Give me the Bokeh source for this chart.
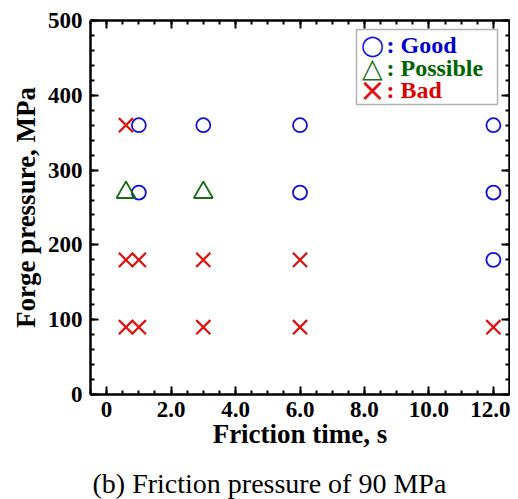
from bokeh.plotting import figure
from bokeh.layouts import column
from bokeh.models import Range1d, FixedTicker, LinearAxis, Label, BoxAnnotation
from bokeh.embed import file_html
from bokeh.resources import INLINE

# ---- data ----
good_x = [1, 3, 6, 12, 1, 6, 12, 12]
good_y = [360, 360, 360, 360, 270, 270, 270, 180]
possible_x = [0.6, 3]
possible_y = [270, 270]
bad_x = [0.6, 0.6, 1, 3, 6, 0.6, 1, 3, 6, 12]
bad_y = [360, 180, 180, 180, 180, 90, 90, 90, 90, 90]

x_ticks = [0, 2, 4, 6, 8, 10, 12]
x_tick_labels = ["0", "2.0", "4.0", "6.0", "8.0", "10.0", "12.0"]
x_minor = [i * 0.5 for i in range(-1, 26)]
y_ticks = [0, 100, 200, 300, 400, 500]
y_tick_labels = ["0", "100", "200", "300", "400", "500"]
y_minor = list(range(0, 501, 20))

legend_symbols = ["\u25CB", "\u25B3", "\u00D7"]
legend_labels = [": Good", ": Possible", ": Bad"]

x_title = "Friction time, s"
y_title = "Forge pressure, MPa"
caption = "(b) Friction pressure of 90 MPa"

BLUE = "#1010e0"
GREEN = "#1a6e1a"
RED = "#e01010"
TXT_BLUE = "#0000cc"
TXT_GREEN = "#006400"
TXT_RED = "#dd0000"
FONT = "Liberation Serif"

p = figure(width=510, height=462, output_backend="svg", toolbar_location=None,
           x_range=Range1d(-0.5, 12.5), y_range=Range1d(0, 500),
           min_border_left=90, min_border_right=1, min_border_top=20,
           min_border_bottom=68, x_axis_location=None, y_axis_location=None)
p.xgrid.visible = False
p.ygrid.visible = False
p.outline_line_color = None
p.background_fill_color = "white"
p.border_fill_color = "white"


def style(ax, ticks, minor, labels, show):
    ax.ticker = FixedTicker(ticks=ticks, minor_ticks=minor)
    ax.axis_line_width = 2.5
    ax.axis_line_color = "black"
    ax.major_tick_line_width = 2
    ax.minor_tick_line_width = 2
    ax.major_tick_line_color = "black"
    ax.minor_tick_line_color = "black"
    ax.major_tick_in = 8
    ax.major_tick_out = 0
    ax.minor_tick_in = 4
    ax.minor_tick_out = 0
    if show:
        ax.major_label_overrides = {t: l for t, l in zip(ticks, labels)}
        ax.major_label_text_font = FONT
        ax.major_label_text_font_style = "bold"
        ax.major_label_text_font_size = "23px"
        ax.major_label_text_color = "black"
        ax.axis_label_text_font = FONT
        ax.axis_label_text_font_style = "bold"
        ax.axis_label_text_font_size = "27px"
        ax.axis_label_text_color = "black"
    else:
        ax.major_label_overrides = {t: "" for t in ticks}
        ax.major_label_text_font_size = "2px"
        ax.major_label_standoff = 0
        ax.axis_label = None


xb = LinearAxis(axis_label=x_title)
style(xb, x_ticks, x_minor, x_tick_labels, True)
xb.major_label_standoff = 7
xb.axis_label_standoff = -1
p.add_layout(xb, "below")

yl = LinearAxis(axis_label=y_title)
style(yl, y_ticks, y_minor, y_tick_labels, True)
yl.major_label_standoff = 8
yl.axis_label_standoff = 4
p.add_layout(yl, "left")

xt = LinearAxis()
style(xt, x_ticks, x_minor, x_tick_labels, False)
p.add_layout(xt, "above")

yr = LinearAxis()
style(yr, y_ticks, y_minor, y_tick_labels, False)
p.add_layout(yr, "right")

p.scatter(good_x, good_y, marker="circle", size=14, fill_color=None,
          line_color=BLUE, line_width=1.8)
p.scatter(possible_x, possible_y, marker="triangle", size=19, fill_color=None,
          line_color=GREEN, line_width=1.8)
p.scatter(bad_x, bad_y, marker="x", size=20, line_color=RED, line_width=2.2)

# legend box
p.add_layout(BoxAnnotation(left=266, right=407, top=365, bottom=290,
                           left_units="screen", right_units="screen",
                           top_units="screen", bottom_units="screen",
                           fill_color=None, fill_alpha=0, line_color="black",
                           line_width=1.5))
rows_y = [350, 327, 305]
sym_sizes = ["27px", "27px", "32px"]
sym_colors = [BLUE, GREEN, RED]
txt_colors = [TXT_BLUE, TXT_GREEN, TXT_RED]
for sym, lab, yy, ss, sc, tc in zip(legend_symbols, legend_labels, rows_y,
                                    sym_sizes, sym_colors, txt_colors):
    p.add_layout(Label(x=282, y=yy, x_units="screen", y_units="screen", text=sym,
                       text_align="center", text_baseline="middle",
                       text_font="DejaVu Sans", text_font_size=ss, text_color=sc))
    p.add_layout(Label(x=296, y=yy, x_units="screen", y_units="screen", text=lab,
                       text_align="left", text_baseline="middle",
                       text_font=FONT, text_font_style="bold",
                       text_font_size="24px", text_color=tc))

# caption strip below the chart
pc = figure(width=510, height=37, output_backend="svg", toolbar_location=None,
            x_range=Range1d(0, 1), y_range=Range1d(0, 1),
            min_border_left=0, min_border_right=0, min_border_top=0,
            min_border_bottom=0, x_axis_location=None, y_axis_location=None)
pc.xgrid.visible = False
pc.ygrid.visible = False
pc.outline_line_color = None
pc.background_fill_color = "white"
pc.border_fill_color = "white"
pc.add_layout(Label(x=2, y=16, x_units="screen", y_units="screen", text=caption,
                    text_align="left", text_baseline="middle",
                    text_font=FONT, text_font_style="normal",
                    text_font_size="28px", text_color="black"))

layout = column(p, pc, spacing=0)
open("out.html", "w").write(file_html(layout, INLINE))
